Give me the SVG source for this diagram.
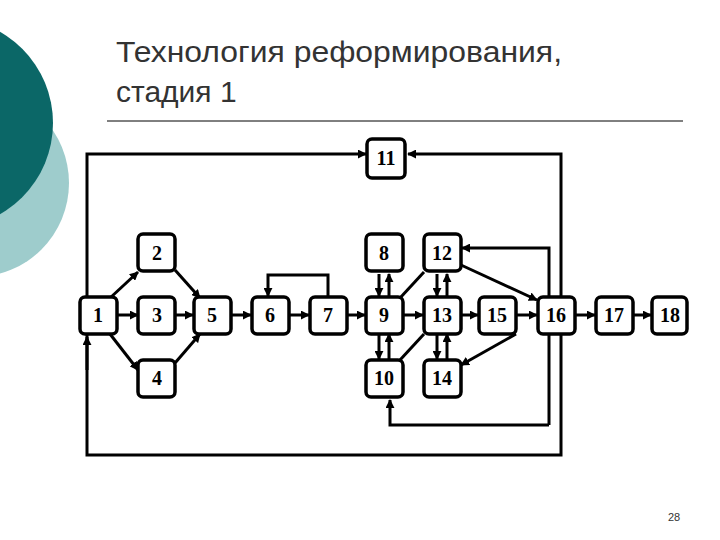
<svg xmlns="http://www.w3.org/2000/svg" width="720" height="540" viewBox="0 0 720 540">
<style>
.n rect{fill:#fff;stroke:#000;stroke-width:3.5}
.n text{font-family:"Liberation Serif",serif;font-size:20px;font-weight:bold;text-anchor:middle}
.c{stroke:#000;stroke-width:3;fill:none}
.t{font-family:"Liberation Sans",sans-serif;font-size:30px;fill:#333}
</style>
<defs><marker id="a" viewBox="0 0 10 10" refX="9" refY="5" markerWidth="3" markerHeight="3" orient="auto"><path d="M0,0L10,5L0,10z"/></marker></defs>
<rect width="720" height="540" fill="#fff"/>
<circle cx="-25" cy="183" r="94" fill="#9ecccc"/>
<circle cx="-52" cy="123" r="105" fill="#0b6767"/>
<text class="t" x="116" y="62" textLength="446" lengthAdjust="spacingAndGlyphs">Технология реформирования,</text>
<text class="t" x="116" y="102">стадия 1</text>
<line x1="107" y1="121" x2="683" y2="121" stroke="#000" stroke-width="1"/>
<text x="668" y="521" font-family="Liberation Sans,sans-serif" font-size="11" fill="#333">28</text>
<g id="connectors" class="c" marker-end="url(#a)">
<path d="M87,180V455H561V154H408"/>
<path d="M87,180V154H366"/>
<path d="M87,370V337" />
<path d="M549,425V248H462"/>
<path d="M549,425H390V400"/>
<path d="M328,296V275H268V296"/>
<path d="M110,298L138,272"/><path d="M110,334L138,370"/>
<path d="M117,315H138"/><path d="M175,315H193"/>
<path d="M175,270L200,298"/><path d="M175,363L200,334"/>
<path d="M231,315H251"/><path d="M289,315H309"/><path d="M347,315H365"/>
<path d="M379,274V296"/><path d="M389,296V274"/>
<path d="M379,334V359"/><path d="M389,359V334"/>
<path d="M437,274V296"/><path d="M447,296V274"/>
<path d="M437,334V359"/><path d="M447,359V334"/>
<path d="M403,315H423"/><path d="M461,315H478"/><path d="M516,315H537"/>
<path d="M461,265L537,300"/>
<path d="M575,315H595"/><path d="M633,315H651"/>
<path d="M516,334L461,365"/>
<path d="M400,298L424,272" marker-end="none"/>
<path d="M400,360L424,334" marker-end="none"/>
</g>
<g id="n1" class="n"><rect x="80" y="297" width="37" height="37" rx="5"/><text x="98" y="322">1</text></g>
<g id="n2" class="n"><rect x="138" y="234" width="37" height="37" rx="5"/><text x="157" y="260">2</text></g>
<g id="n3" class="n"><rect x="138" y="297" width="37" height="37" rx="5"/><text x="157" y="322">3</text></g>
<g id="n4" class="n"><rect x="138" y="360" width="37" height="37" rx="5"/><text x="157" y="385">4</text></g>
<g id="n5" class="n"><rect x="194" y="297" width="37" height="37" rx="5"/><text x="212" y="322">5</text></g>
<g id="n6" class="n"><rect x="252" y="297" width="37" height="37" rx="5"/><text x="270" y="322">6</text></g>
<g id="n7" class="n"><rect x="310" y="297" width="37" height="37" rx="5"/><text x="328" y="322">7</text></g>
<g id="n8" class="n"><rect x="366" y="234" width="37" height="37" rx="5"/><text x="384" y="260">8</text></g>
<g id="n9" class="n"><rect x="366" y="297" width="37" height="37" rx="5"/><text x="384" y="322">9</text></g>
<g id="n10" class="n"><rect x="366" y="360" width="37" height="37" rx="5"/><text x="384" y="385">10</text></g>
<g id="n11" class="n"><rect x="367" y="139" width="38" height="39" rx="5"/><text x="386" y="165">11</text></g>
<g id="n12" class="n"><rect x="424" y="234" width="37" height="37" rx="5"/><text x="442" y="260">12</text></g>
<g id="n13" class="n"><rect x="424" y="297" width="37" height="37" rx="5"/><text x="442" y="322">13</text></g>
<g id="n14" class="n"><rect x="424" y="360" width="37" height="37" rx="5"/><text x="442" y="385">14</text></g>
<g id="n15" class="n"><rect x="479" y="297" width="37" height="37" rx="5"/><text x="497" y="322">15</text></g>
<g id="n16" class="n"><rect x="538" y="297" width="37" height="37" rx="5"/><text x="556" y="322">16</text></g>
<g id="n17" class="n"><rect x="596" y="297" width="37" height="37" rx="5"/><text x="614" y="322">17</text></g>
<g id="n18" class="n"><rect x="652" y="297" width="35" height="37" rx="5"/><text x="670" y="322">18</text></g>
</svg>
